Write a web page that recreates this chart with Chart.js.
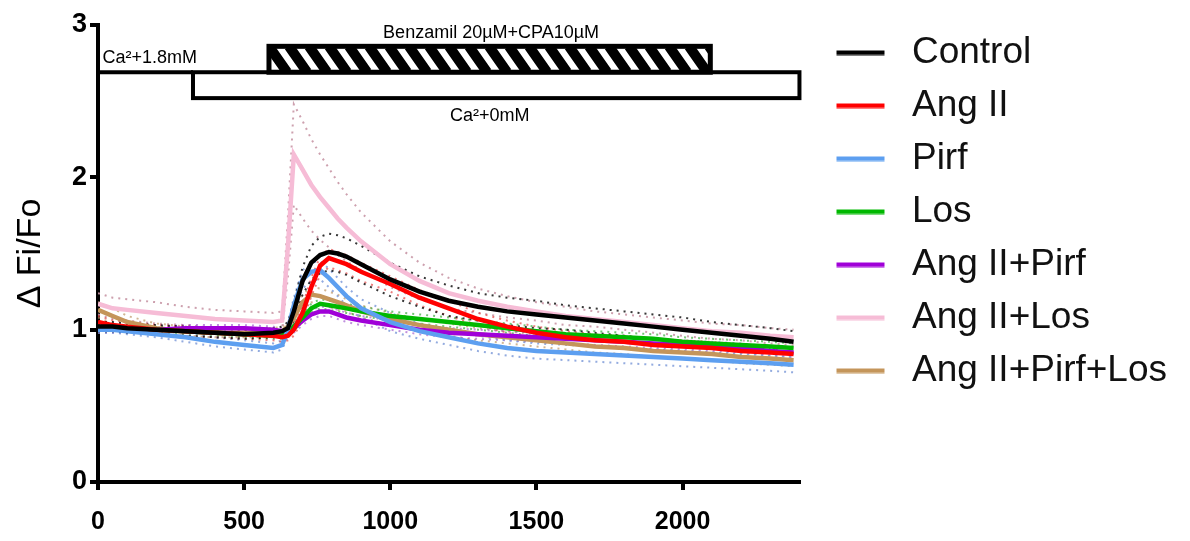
<!DOCTYPE html>
<html>
<head>
<meta charset="utf-8">
<script src="https://cdn.jsdelivr.net/npm/chart.js@4/dist/chart.umd.min.js"></script>
<style>
  html, body { margin: 0; padding: 0; background: #fff; }
  #wrap { width: 1190px; height: 541px; }
</style>
</head>
<body>
<div id="wrap"><canvas id="myChart" width="1190" height="541"></canvas></div>
<script>
// time points (s) shared by every trace
var times = [0, 50, 100, 200, 300, 400, 500, 600, 630, 650, 670, 700, 730, 760, 790, 820, 850, 900,
             1000, 1100, 1200, 1300, 1400, 1500, 1600, 1700, 1800, 1900, 2000, 2100, 2200, 2300, 2380];

var seriesNames = ["Control", "Ang II", "Pirf", "Los", "Ang II+Pirf", "Ang II+Los", "Ang II+Pirf+Los"];

// mean traces
var control    = [1.02,1.02,1.01,1.00,0.99,0.98,0.97,0.98,0.99,1.01,1.12,1.32,1.44,1.49,1.51,1.50,1.48,1.43,1.33,1.25,1.19,1.15,1.12,1.10,1.08,1.06,1.04,1.02,1.00,0.98,0.96,0.94,0.92];
var angII      = [1.05,1.03,1.02,1.00,0.99,0.98,0.97,0.96,0.95,0.96,1.00,1.11,1.28,1.42,1.47,1.45,1.43,1.38,1.30,1.21,1.14,1.07,1.02,0.98,0.95,0.93,0.92,0.90,0.89,0.88,0.86,0.85,0.84];
var pirf       = [1.00,1.00,0.99,0.97,0.95,0.92,0.90,0.88,0.90,1.00,1.16,1.33,1.38,1.39,1.34,1.28,1.22,1.14,1.05,0.99,0.95,0.91,0.88,0.86,0.85,0.84,0.83,0.82,0.81,0.80,0.79,0.78,0.77];
var los        = [1.01,1.01,1.01,1.00,0.99,0.98,0.97,0.96,0.96,0.98,1.02,1.08,1.14,1.17,1.16,1.15,1.14,1.12,1.09,1.07,1.05,1.03,1.01,0.99,0.97,0.96,0.95,0.94,0.92,0.91,0.90,0.89,0.88];
var angPirf    = [1.00,1.00,1.00,1.00,1.01,1.01,1.01,1.00,0.99,0.99,1.01,1.06,1.10,1.12,1.12,1.10,1.08,1.06,1.03,1.00,0.98,0.97,0.96,0.95,0.94,0.93,0.92,0.91,0.90,0.89,0.88,0.86,0.85];
var angLos     = [1.17,1.14,1.13,1.11,1.09,1.07,1.06,1.05,1.06,1.55,2.15,2.05,1.95,1.87,1.80,1.73,1.67,1.58,1.43,1.32,1.24,1.19,1.15,1.12,1.09,1.07,1.05,1.03,1.01,0.99,0.98,0.96,0.95];
var angPirfLos = [1.13,1.09,1.05,1.01,0.99,0.98,0.98,0.98,0.99,1.02,1.08,1.18,1.23,1.22,1.20,1.18,1.16,1.12,1.07,1.03,1.00,0.97,0.95,0.93,0.91,0.89,0.88,0.86,0.85,0.84,0.82,0.81,0.80];

// SEM (dotted envelopes)
var controlSem    = [0.03,0.03,0.03,0.03,0.03,0.03,0.03,0.03,0.03,0.04,0.06,0.09,0.11,0.12,0.12,0.12,0.12,0.12,0.11,0.10,0.10,0.09,0.09,0.09,0.08,0.08,0.08,0.08,0.08,0.07,0.07,0.07,0.07];
var angIISem      = [0.04,0.03,0.03,0.03,0.03,0.03,0.03,0.03,0.03,0.03,0.04,0.05,0.06,0.06,0.06,0.06,0.06,0.06,0.05,0.05,0.05,0.04,0.04,0.04,0.04,0.04,0.04,0.04,0.04,0.04,0.04,0.04,0.04];
var pirfSem       = [0.02,0.02,0.02,0.02,0.03,0.03,0.03,0.03,0.03,0.04,0.05,0.06,0.06,0.06,0.06,0.06,0.06,0.06,0.06,0.05,0.05,0.05,0.05,0.05,0.05,0.05,0.05,0.05,0.05,0.05,0.05,0.05,0.05];
var losSem        = [0.02,0.02,0.02,0.02,0.02,0.02,0.02,0.02,0.02,0.02,0.03,0.03,0.03,0.03,0.03,0.03,0.03,0.03,0.03,0.03,0.03,0.03,0.03,0.03,0.03,0.03,0.03,0.03,0.03,0.03,0.03,0.03,0.03];
var angPirfSem    = [0.02,0.02,0.02,0.02,0.02,0.02,0.02,0.02,0.02,0.02,0.03,0.03,0.03,0.03,0.03,0.03,0.03,0.03,0.03,0.03,0.03,0.03,0.03,0.03,0.03,0.03,0.03,0.03,0.03,0.03,0.03,0.03,0.03];
var angLosSem     = [0.07,0.07,0.07,0.07,0.06,0.06,0.06,0.06,0.06,0.20,0.33,0.32,0.30,0.28,0.26,0.24,0.22,0.19,0.15,0.12,0.10,0.08,0.07,0.06,0.06,0.05,0.05,0.05,0.05,0.05,0.05,0.05,0.05];
var angPirfLosSem = [0.05,0.05,0.04,0.03,0.03,0.03,0.03,0.03,0.03,0.03,0.04,0.05,0.05,0.05,0.05,0.05,0.04,0.04,0.04,0.04,0.04,0.04,0.04,0.04,0.04,0.04,0.04,0.04,0.04,0.04,0.04,0.04,0.04];

var xTicks = [0, 500, 1000, 1500, 2000];
var yTicks = [0, 1, 2, 3];

// solution bars at the top (data units: time, ΔFi/Fo)
var caStep    = [0, 325];                 // Ca2+ 1.8mM
var zeroCaBox = [325, 2400, 2.52, 2.69];  // Ca2+ 0mM
var drugBox   = [585, 2095, 2.69, 2.86];  // Benzamil + CPA
var barLabels = [
  { text: "Ca\u00b2+1.8mM", t: 15, v: 2.78, align: "left" },
  { text: "Benzamil 20\u00b5M+CPA10\u00b5M", t: 1345, v: 2.945, align: "center" },
  { text: "Ca\u00b2+0mM", t: 1340, v: 2.405, align: "center" }
];

var means = [control, angII, pirf, los, angPirf, angLos, angPirfLos];
var sems = [controlSem, angIISem, pirfSem, losSem, angPirfSem, angLosSem, angPirfLosSem];
var lineColors = ["#000000", "#ff0000", "#5d9ff0", "#00b800", "#a000d8", "#f6bcd6", "#c4955a"];
var dotColors = ["rgba(20,20,20,0.85)", "rgba(225,70,70,0.7)", "rgba(120,150,215,0.8)", "rgba(60,170,60,0.7)",
                 "rgba(150,70,200,0.6)", "rgba(200,150,165,0.9)", "rgba(190,150,100,0.7)"];

function pts(vals, sem, sign) {
    var out = [];
    for (var i = 0; i < times.length; i++) {
        var v = vals[i];
        if (sem) v = v + sign * sem[i];
        out.push({ x: times[i], y: v });
    }
    return out;
}

var datasets = [];
for (var i = 0; i < means.length; i++) {
    datasets.push({
        label: seriesNames[i], data: pts(means[i]), borderColor: lineColors[i],
        borderWidth: 4.5, pointRadius: 0, tension: 0, order: 0
    });
}
for (var i = 0; i < means.length; i++) {
    [1, -1].forEach(function (s) {
        datasets.push({
            label: "", data: pts(means[i], sems[i], s), borderColor: dotColors[i],
            borderWidth: 2, borderDash: [2, 5], pointRadius: 0, tension: 0, order: 1
        });
    });
}

// legend line samples, a bit of blank on the left
function lineSample(color) {
    var c = document.createElement("canvas");
    c.width = 78; c.height = 6;
    var g = c.getContext("2d");
    g.fillStyle = color;
    g.fillRect(21, 1, 48, 4.5);
    return c;
}

var solutionBars = {
    id: "solutionBars",
    afterDraw: function (chart) {
        var ctx = chart.ctx, x = chart.scales.x, y = chart.scales.y;
        ctx.save();
        ctx.strokeStyle = "#000";
        ctx.lineWidth = 4;

        // 0 Ca box
        var bx0 = x.getPixelForValue(zeroCaBox[0]), bx1 = x.getPixelForValue(zeroCaBox[1]);
        var by0 = y.getPixelForValue(zeroCaBox[3]), by1 = y.getPixelForValue(zeroCaBox[2]);
        ctx.fillStyle = "#fff";
        ctx.fillRect(bx0, by0, bx1 - bx0, by1 - by0);
        ctx.strokeRect(bx0, by0, bx1 - bx0, by1 - by0);

        // 1.8 Ca step line
        ctx.beginPath();
        ctx.moveTo(x.getPixelForValue(caStep[0]), by0);
        ctx.lineTo(x.getPixelForValue(caStep[1]), by0);
        ctx.stroke();

        // hatched drug box
        var hx0 = x.getPixelForValue(drugBox[0]), hx1 = x.getPixelForValue(drugBox[1]);
        var hy0 = y.getPixelForValue(drugBox[3]), hy1 = y.getPixelForValue(drugBox[2]);
        ctx.fillStyle = "#fff";
        ctx.fillRect(hx0, hy0, hx1 - hx0, hy1 - hy0);
        ctx.save();
        ctx.beginPath();
        ctx.rect(hx0, hy0, hx1 - hx0, hy1 - hy0);
        ctx.clip();
        ctx.lineWidth = 10;
        ctx.beginPath();
        for (var sx = hx0 - 40; sx < hx1 + 40; sx += 20) {
            ctx.moveTo(sx, hy0);
            ctx.lineTo(sx + (hy1 - hy0) * 0.7, hy1);
        }
        ctx.stroke();
        ctx.restore();
        ctx.lineWidth = 5;
        ctx.strokeRect(hx0, hy0, hx1 - hx0, hy1 - hy0);

        // labels
        ctx.fillStyle = "#000";
        ctx.font = '18px "Liberation Sans", Arial, sans-serif';
        ctx.textBaseline = "middle";
        barLabels.forEach(function (l) {
            ctx.textAlign = l.align;
            ctx.fillText(l.text, x.getPixelForValue(l.t), y.getPixelForValue(l.v));
        });
        ctx.restore();
    }
};

new Chart("myChart", {
    type: "line",
    data: { datasets: datasets },
    plugins: [solutionBars],
    options: {
        responsive: false,
        animation: false,
        devicePixelRatio: 1,
        layout: { padding: { top: 18, right: 13, bottom: -13, left: 0 } },
        plugins: {
            tooltip: { enabled: false },
            legend: {
                position: "right",
                align: "start",
                maxWidth: 500,
                labels: {
                    usePointStyle: true,
                    pointStyleWidth: 78,
                    padding: 16,
                    color: "#111",
                    font: { family: '"Liberation Sans", Arial, sans-serif', size: 37 },
                    generateLabels: function (chart) {
                        return seriesNames.map(function (n, i) {
                            return { text: n, pointStyle: lineSample(lineColors[i]), datasetIndex: i,
                                     hidden: false, lineWidth: 0, strokeStyle: "rgba(0,0,0,0)",
                                     fillStyle: "rgba(0,0,0,0)", fontColor: "#111" };
                        });
                    }
                }
            }
        },
        scales: {
            x: {
                type: "linear", min: 0, max: 2400,
                afterBuildTicks: function (s) {
                    s.ticks = xTicks.map(function (v) { return { value: v }; });
                },
                ticks: {
                    color: "#000", padding: 17, maxRotation: 0,
                    callback: function (v) { return String(v); },
                    font: { family: '"Liberation Sans", Arial, sans-serif', size: 25, weight: "bold" }
                },
                grid: { drawOnChartArea: false, color: "#000", lineWidth: 4, tickLength: 8 },
                border: { color: "#000", width: 4 }
            },
            y: {
                min: 0, max: 3,
                afterBuildTicks: function (s) {
                    s.ticks = yTicks.map(function (v) { return { value: v }; });
                },
                afterFit: function (s) { s.width = 98; },
                ticks: {
                    color: "#000", padding: 3,
                    font: { family: '"Liberation Sans", Arial, sans-serif', size: 27, weight: "bold", lineHeight: 1.63 }
                },
                title: {
                    display: true, text: "\u0394 Fi/Fo", color: "#000",
                    font: { family: '"Liberation Sans", Arial, sans-serif', size: 34 },
                    padding: { top: 10, bottom: 0 }
                },
                grid: { drawOnChartArea: false, color: "#000", lineWidth: 4, tickLength: 8 },
                border: { color: "#000", width: 4 }
            }
        }
    }
});
</script>
</body>
</html>
